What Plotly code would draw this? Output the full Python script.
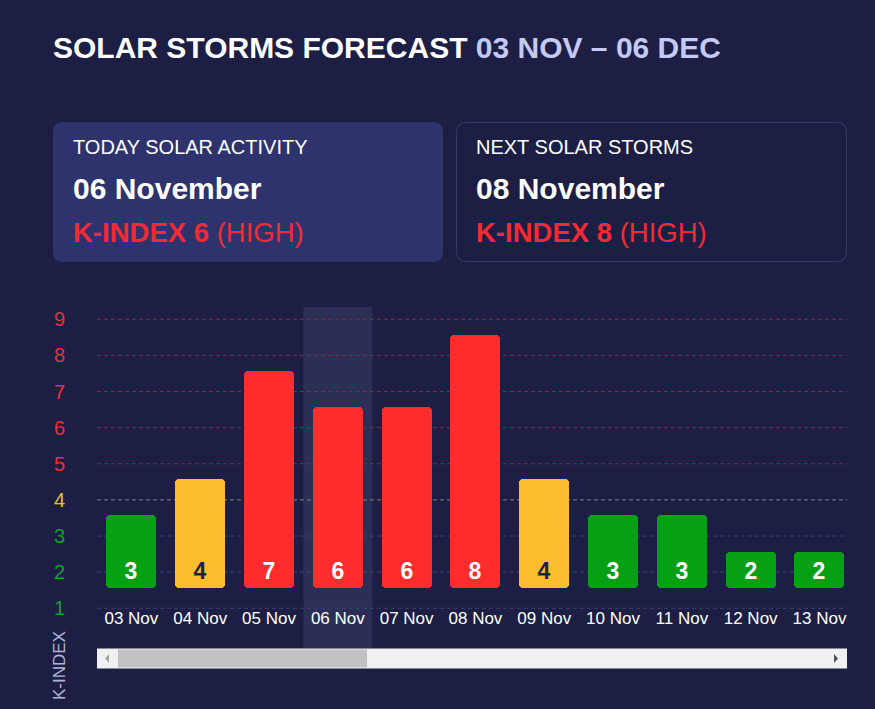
import plotly.graph_objects as go

# ---------------- data ----------------
dates = ["03 Nov", "04 Nov", "05 Nov", "06 Nov", "07 Nov", "08 Nov",
         "09 Nov", "10 Nov", "11 Nov", "12 Nov", "13 Nov"]
kindex = [3, 4, 7, 6, 6, 8, 4, 3, 3, 2, 2]
y_ticks = [1, 2, 3, 4, 5, 6, 7, 8, 9]
today_label = "06 Nov"
title_main = "SOLAR STORMS FORECAST"
title_range = "03 NOV – 06 DEC"
card1 = ["TODAY SOLAR ACTIVITY", "06 November", "K-INDEX 6", "(HIGH)"]
card2 = ["NEXT SOLAR STORMS", "08 November", "K-INDEX 8", "(HIGH)"]
axis_title = "K-INDEX"

# ---------------- style ----------------
BG = "#1c1f43"
CARD_FILL = "#2e336e"
CARD_BORDER = "#363b6c"
ACCENT = "#c4c9f7"
RED, YELLOW, GREEN = "#fe2c2d", "#fbbd2d", "#06a015"
RED_T, YELLOW_T, GREEN_T = "#e5303d", "#f5b932", "#1d9a36"
CARD_RED = "#f22a33"
BAND = "#2c2f55"
FONT = "Arial, 'Liberation Sans', sans-serif"

W, H = 875, 709
ML, MR, MT, MB = 97, 28, 307, 61
PW, PH = W - ML - MR, H - MT - MB
BAR_BASE = 1.57


def px(x):
    return (x - ML) / PW


def py(y):
    return (H - MB - y) / PH


def bar_color(k):
    return RED if k >= 5 else (YELLOW if k == 4 else GREEN)


def tick_color(k):
    return RED_T if k >= 5 else (YELLOW_T if k == 4 else GREEN_T)


def grid_color(k):
    return "#7a2c50" if k >= 5 else ("#85807e" if k == 4 else "#3e4270")


def rrect(x0, y0, x1, y1, r):
    X0, X1 = px(x0), px(x1)
    Y0, Y1 = py(y0), py(y1)  # Y0 top (bigger), Y1 bottom
    rx, ry = r / PW, r / PH
    return (f"M {X0+rx},{Y0} L {X1-rx},{Y0} Q {X1},{Y0} {X1},{Y0-ry} "
            f"L {X1},{Y1+ry} Q {X1},{Y1} {X1-rx},{Y1} L {X0+rx},{Y1} "
            f"Q {X0},{Y1} {X0},{Y1+ry} L {X0},{Y0-ry} Q {X0},{Y0} {X0+rx},{Y0} Z")


fig = go.Figure()
fig.add_trace(go.Bar(
    x=dates,
    y=[k - 1 for k in kindex],
    base=BAR_BASE,
    width=0.727,
    marker=dict(color=[bar_color(k) for k in kindex], line=dict(width=0), cornerradius=4),
    text=[f"<b>{k}</b>" for k in kindex],
    textposition="inside",
    insidetextanchor="start",
    textangle=0,
    textfont=dict(size=23, family=FONT,
                  color=["#1f2140" if k == 4 else "#ffffff" for k in kindex]),
    hoverinfo="skip",
))

shapes = []
ti = dates.index(today_label)
shapes.append(dict(type="rect", xref="x", yref="paper", x0=ti - 0.5, x1=ti + 0.5,
                   y0=0, y1=1, fillcolor=BAND, line=dict(width=0), layer="below"))
for k in y_ticks:
    shapes.append(dict(type="line", xref="paper", yref="y", x0=0, x1=1, y0=k, y1=k,
                       line=dict(color=grid_color(k), width=1, dash="4px,3px"), layer="below"))

# cards
shapes.append(dict(type="path", xref="paper", yref="paper", path=rrect(53, 122, 443, 262, 10),
                   fillcolor=CARD_FILL, line=dict(width=0), layer="below"))
shapes.append(dict(type="path", xref="paper", yref="paper", path=rrect(456.5, 122.5, 846.5, 261.5, 10),
                   fillcolor="rgba(0,0,0,0)", line=dict(color=CARD_BORDER, width=1), layer="below"))

# scrollbar
shapes.append(dict(type="rect", xref="paper", yref="paper", x0=px(97), x1=px(847), y0=py(648.5), y1=py(668.5),
                   fillcolor="#f0f0f0", line=dict(width=0), layer="above"))
shapes.append(dict(type="rect", xref="paper", yref="paper", x0=px(118), x1=px(367), y0=py(649.5), y1=py(667.5),
                   fillcolor="#c1c1c1", line=dict(width=0), layer="above"))
shapes.append(dict(type="path", xref="paper", yref="paper",
                   path=f"M {px(109)},{py(654)} L {px(109)},{py(663)} L {px(105)},{py(658.5)} Z",
                   fillcolor="#a3a3a3", line=dict(width=0), layer="above"))
shapes.append(dict(type="path", xref="paper", yref="paper",
                   path=f"M {px(834)},{py(654)} L {px(834)},{py(663)} L {px(838)},{py(658.5)} Z",
                   fillcolor="#505050", line=dict(width=0), layer="above"))

ann = []
ann.append(dict(xref="paper", yref="paper", x=px(51), y=py(47.5), xanchor="left", yanchor="middle",
                showarrow=False, font=dict(size=30, color="#ffffff", family=FONT),
                text=f"<b>{title_main}</b> <span style='color:{ACCENT}'><b>{title_range}</b></span>"))
for cx, c in ((71, card1), (474, card2)):
    ann.append(dict(xref="paper", yref="paper", x=px(cx), y=py(146.5), xanchor="left", yanchor="middle",
                    showarrow=False, font=dict(size=20, color="#ffffff", family=FONT), text=c[0]))
    ann.append(dict(xref="paper", yref="paper", x=px(cx), y=py(188), xanchor="left", yanchor="middle",
                    showarrow=False, font=dict(size=30, color="#ffffff", family=FONT), text=f"<b>{c[1]}</b>"))
    ann.append(dict(xref="paper", yref="paper", x=px(cx), y=py(232.5), xanchor="left", yanchor="middle",
                    showarrow=False, font=dict(size=27.5, color=CARD_RED, family=FONT),
                    text=f"<b>{c[2]}</b> {c[3]}"))
ann.append(dict(xref="paper", yref="paper", x=px(59), y=py(666), xanchor="center", yanchor="middle",
                showarrow=False, textangle=-90, font=dict(size=17, color="#aeb3d8", family=FONT),
                text=axis_title))

fig.update_layout(
    width=W, height=H,
    margin=dict(l=ML, r=MR, t=MT, b=MB, pad=0),
    paper_bgcolor=BG, plot_bgcolor=BG,
    font=dict(family=FONT, color="#ffffff"),
    showlegend=False,
    bargap=0,
    shapes=shapes,
    annotations=ann,
    xaxis=dict(type="category", range=[-0.5, 10.4], anchor="free", position=0.123,
               showgrid=False, zeroline=False, showline=False, ticks="",
               tickfont=dict(size=17, color="#ffffff", family=FONT), fixedrange=True),
    yaxis=dict(range=[-0.1, 9.34], tickvals=y_ticks,
               ticktext=[f"<span style='color:{tick_color(k)}'>{k}</span>" for k in y_ticks],
               showgrid=False, zeroline=False, showline=False, ticks="",
               ticklabelstandoff=31,
               tickfont=dict(size=20, family=FONT), fixedrange=True),
)

fig.write_html("out.html", config=dict(displayModeBar=False),
               post_script="document.body.style.margin='0';document.body.style.overflow='hidden';")
